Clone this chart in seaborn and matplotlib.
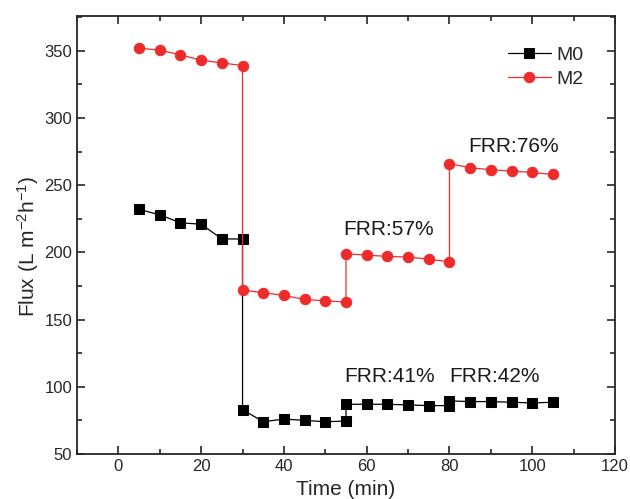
import matplotlib
matplotlib.use("Agg")
import matplotlib.pyplot as plt
from matplotlib.ticker import MultipleLocator
import seaborn as sn
import pandas as pd

# Time points (min); repeated times mark the step changes between stages
time_m0 = [5, 10, 15, 20, 25, 30, 30, 35, 40, 45, 50, 55, 55, 60, 65, 70, 75, 80,
           80, 85, 90, 95, 100, 105]
flux_m0 = [232, 228, 222, 221, 210, 210, 83, 74, 76, 75, 74, 74.5, 87, 87, 87, 86.5, 86, 86,
           89.5, 89, 89, 88.5, 88, 88.5]

time_m2 = [5, 10, 15, 20, 25, 30, 30, 35, 40, 45, 50, 55, 55, 60, 65, 70, 75, 80,
           80, 85, 90, 95, 100, 105]
flux_m2 = [352, 350.5, 347, 343, 341, 339, 172, 170, 168, 165, 164, 163, 199, 198, 197, 196.5, 195, 193,
           266, 263, 261.5, 260.5, 259.5, 258]

frr_labels = ["FRR:57%", "FRR:76%", "FRR:41%", "FRR:42%"]
frr_x = [54.3, 84.6, 54.6, 80.0]
frr_y = [217, 279, 108, 108]

red = "#EE2B2B"

if __name__ == "__main__":
    sn.set_style("ticks")
    plt.rcParams["font.family"] = ["Liberation Sans", "DejaVu Sans"]
    plt.rcParams["mathtext.default"] = "regular"

    df_m0 = pd.DataFrame({"time": time_m0, "flux": flux_m0})
    df_m2 = pd.DataFrame({"time": time_m2, "flux": flux_m2})

    fig = plt.figure(figsize=(6.3, 4.99), dpi=100)
    ax = fig.add_axes([0.1222, 0.0902, 0.854, 0.878])

    sn.lineplot(data=df_m0, x="time", y="flux", estimator=None, sort=False, ax=ax,
                color="black", marker="s", markersize=7, linewidth=0.9,
                markeredgecolor="black", label="M0")
    sn.lineplot(data=df_m2, x="time", y="flux", estimator=None, sort=False, ax=ax,
                color=red, marker="o", markersize=7.5, linewidth=0.9,
                markeredgecolor=red, label="M2")

    for txt, tx, ty in zip(frr_labels, frr_x, frr_y):
        ax.text(tx, ty, txt, fontsize=15, va="center", ha="left", color="#1a1a1a")

    ax.set_xlim(-10, 120)
    ax.set_ylim(50, 376)
    ax.xaxis.set_major_locator(MultipleLocator(20))
    ax.xaxis.set_minor_locator(MultipleLocator(10))
    ax.yaxis.set_major_locator(MultipleLocator(50))
    ax.yaxis.set_minor_locator(MultipleLocator(25))
    ax.tick_params(which="both", direction="in", top=True, right=True, labelsize=12, width=1.2)
    ax.tick_params(which="major", length=6)
    ax.tick_params(which="minor", length=3.5)
    for sp in ax.spines.values():
        sp.set_linewidth(1.3)

    ax.set_xlabel("Time (min)", fontsize=15)
    ax.set_ylabel("Flux (L m$^{-2}$h$^{-1}$)", fontsize=15)
    ax.xaxis.set_label_coords(0.5, -0.06)
    ax.yaxis.set_label_coords(-0.066, 0.473)

    ax.legend(loc="upper right", frameon=False, fontsize=14, handlelength=2.2,
              handletextpad=0.3, borderaxespad=0.6, labelspacing=0.35,
              bbox_to_anchor=(0.978, 0.975))

    plt.savefig("out.png", dpi=100)
